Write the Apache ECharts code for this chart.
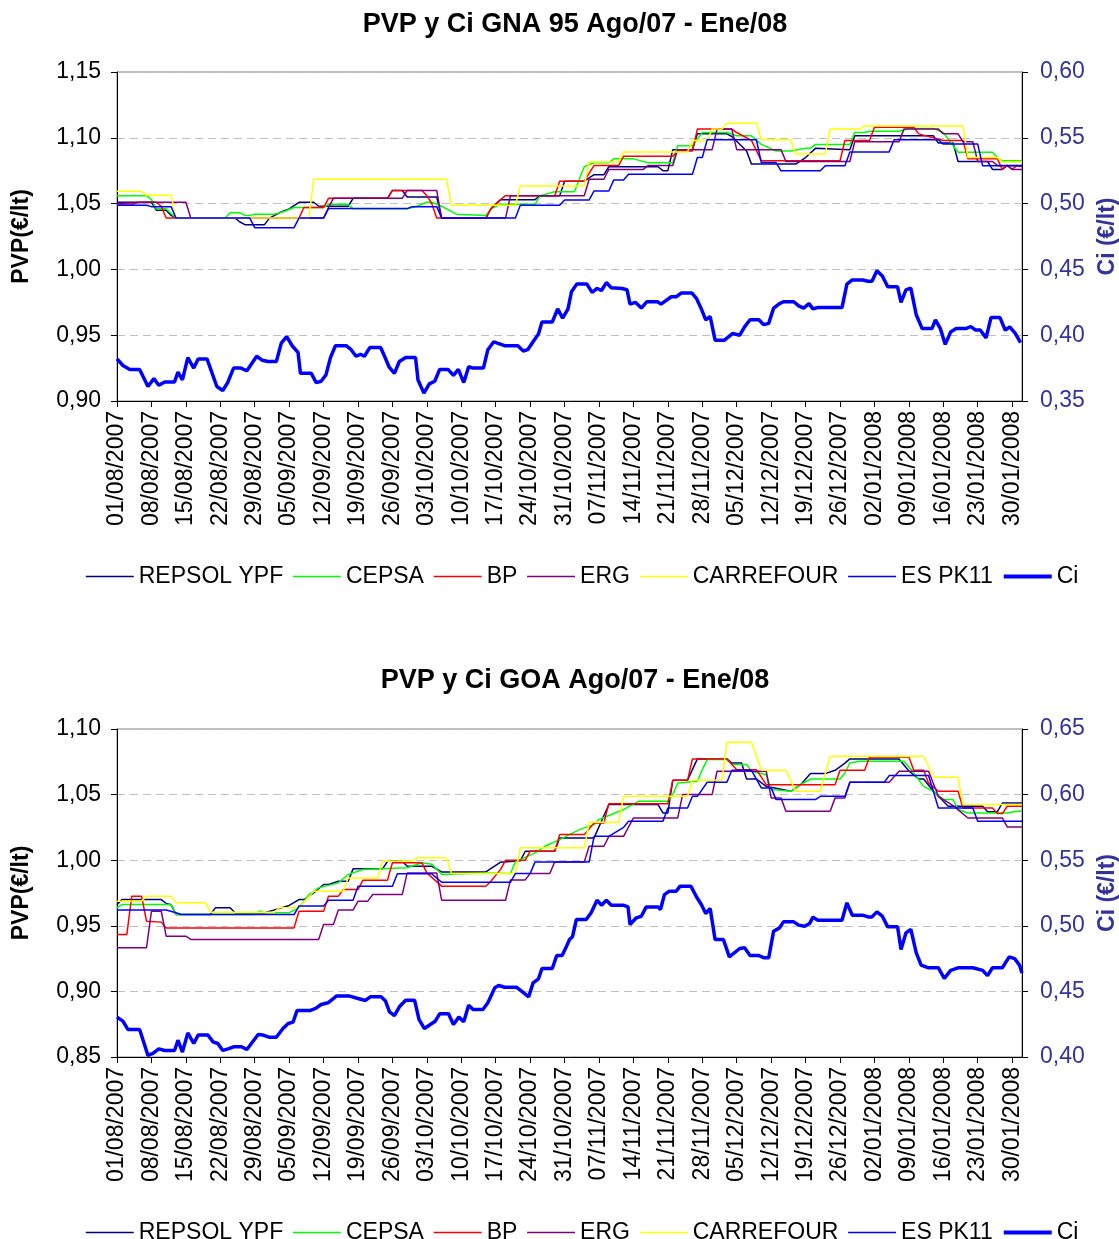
<!DOCTYPE html>
<html><head><meta charset="utf-8">
<script src="https://cdn.jsdelivr.net/npm/echarts@6/dist/echarts.min.js"></script>
<style>html,body{margin:0;padding:0;background:#fff}#c{width:1119px;height:1239px}</style>
</head><body><div id="c"></div>
<script>
// ---------- categories (daily, 01/08/2007 .. 01/02/2008) ----------
const dates = [];
(function(){ const d0 = new Date(2007,7,1); for(let i=0;i<185;i++){ const d=new Date(d0.getFullYear(),d0.getMonth(),d0.getDate()+i);
  dates.push(String(d.getDate()).padStart(2,'0')+'/'+String(d.getMonth()+1).padStart(2,'0')+'/'+d.getFullYear()); } })();
const tickIdx = [0,7,14,21,28,35,42,49,56,63,70,77,84,91,98,105,112,119,126,133,140,147,154,161,168,175,182];
const names = ['REPSOL YPF','CEPSA','BP','ERG','CARREFOUR','ES PK11','Ci'];
const colors = ['#000080','#00FF00','#FF0000','#800080','#FFFF00','#0000FF','#0000FF'];

// ---------- GNA 95 (chart 1) : [day index, value] ----------
const repsol1 = [[0,1.051],[7,1.051],[8,1.045],[10,1.045],[11,1.041],[12,1.039],[24,1.039],[25,1.036],[26,1.034],[30,1.034],[31,1.039],[33,1.043],[35,1.046],[37,1.051],[40,1.051],[41,1.048],[47,1.048],[48,1.054],[55,1.054],[56,1.060],[58,1.060],[59,1.055],[65,1.055],[66,1.039],[75,1.039],[76,1.046],[78,1.053],[85,1.053],[86,1.056],[90,1.056],[91,1.067],[95,1.067],[97,1.072],[99,1.072],[100,1.078],[110,1.078],[111,1.075],[112,1.075],[113,1.091],[117,1.091],[118,1.103],[124,1.103],[125,1.101],[128,1.090],[129,1.080],[138,1.080],[140,1.085],[142,1.092],[149,1.091],[150,1.1015],[166,1.1015],[167,1.096],[170,1.096],[171,1.082],[177,1.082],[178,1.076],[180,1.076],[181,1.079],[184,1.079]];
const cepsa1 = [[0,1.056],[6,1.056],[7,1.053],[8,1.046],[10,1.046],[12,1.039],[22,1.039],[23,1.043],[25,1.043],[26,1.041],[27,1.041],[28,1.042],[32,1.042],[34,1.044],[36,1.047],[42,1.047],[43,1.0495],[47,1.0495],[48,1.046],[59,1.046],[61,1.048],[63,1.051],[64,1.051],[66,1.048],[69,1.042],[75,1.041],[76,1.046],[78,1.0495],[85,1.0495],[86,1.056],[89,1.059],[93,1.059],[95,1.078],[97,1.081],[100,1.081],[101,1.084],[105,1.084],[108,1.081],[113,1.081],[114,1.094],[117,1.094],[118,1.099],[119,1.104],[124,1.104],[126,1.1015],[129,1.1015],[131,1.095],[134,1.090],[137,1.090],[140,1.092],[141,1.092],[142,1.095],[149,1.095],[150,1.104],[152,1.104],[153,1.105],[159,1.105],[161,1.107],[166,1.107],[168,1.104],[171,1.089],[178,1.089],[179,1.085],[180,1.0825],[184,1.0825]];
const bp1 = [[0,1.049],[3,1.049],[4,1.051],[8,1.051],[9,1.048],[10,1.039],[37,1.039],[38,1.047],[42,1.047],[43,1.054],[55,1.054],[56,1.060],[62,1.060],[63,1.056],[64,1.050],[65,1.039],[75,1.039],[76,1.046],[78,1.053],[79,1.056],[89,1.056],[90,1.067],[95,1.067],[97,1.079],[102,1.079],[103,1.086],[113,1.086],[114,1.090],[117,1.090],[118,1.1066],[125,1.1066],[126,1.104],[129,1.098],[131,1.0825],[147,1.0825],[148,1.098],[153,1.098],[154,1.108],[162,1.108],[163,1.103],[168,1.098],[172,1.098],[173,1.084],[179,1.084],[180,1.076],[181,1.079],[182,1.076],[183,1.079],[184,1.078]];
const erg1 = [[0,1.050],[7,1.051],[14,1.051],[15,1.039],[42,1.039],[43,1.047],[44,1.054],[58,1.054],[59,1.060],[65,1.060],[66,1.039],[79,1.039],[80,1.056],[95,1.056],[96,1.0685],[99,1.0685],[100,1.076],[107,1.076],[108,1.079],[113,1.079],[114,1.091],[121,1.091],[122,1.1066],[125,1.1066],[126,1.091],[135,1.091],[136,1.082],[149,1.082],[150,1.097],[159,1.097],[160,1.1066],[167,1.1066],[168,1.103],[171,1.103],[172,1.097],[174,1.097],[175,1.082],[178,1.082],[179,1.079],[181,1.079],[182,1.076],[184,1.076]];
const carrefour1 = [[0,1.0594],[5,1.0594],[6,1.0563],[11,1.0563],[12,1.039],[39,1.039],[40,1.0685],[67,1.0685],[68,1.0487],[81,1.0487],[82,1.0634],[95,1.0634],[96,1.0817],[102,1.0817],[103,1.0893],[116,1.0893],[117,1.098],[120,1.098],[121,1.1066],[123,1.1066],[124,1.111],[130,1.111],[131,1.0985],[137,1.0985],[138,1.0876],[144,1.0876],[145,1.1066],[151,1.1066],[152,1.109],[172,1.109],[173,1.085],[179,1.085],[180,1.0817],[184,1.0817]];
const espk1 = [[0,1.0487],[6,1.0487],[7,1.0477],[11,1.0477],[12,1.039],[27,1.039],[28,1.0317],[36,1.0317],[37,1.039],[42,1.039],[43,1.0462],[59,1.0462],[60,1.0477],[65,1.0477],[66,1.039],[81,1.039],[82,1.0487],[90,1.0487],[91,1.0528],[96,1.0528],[97,1.0596],[100,1.0596],[101,1.068],[103,1.068],[104,1.0723],[117,1.0723],[118,1.085],[119,1.085],[120,1.0985],[130,1.0985],[131,1.0812],[134,1.0812],[135,1.0749],[143,1.0749],[144,1.0787],[148,1.0787],[149,1.0893],[157,1.0893],[158,1.0985],[167,1.0985],[168,1.0952],[175,1.0952],[176,1.0787],[184,1.0787]];
const ci1 = [[0,0.382],[1.2,0.377],[2.6,0.374],[4.6,0.374],[6.3,0.361],[7.5,0.367],[8.5,0.362],[9.7,0.3645],[11.7,0.3645],[12.4,0.372],[13.3,0.366],[14.4,0.383],[15.6,0.375],[16.5,0.382],[18.3,0.382],[20.3,0.361],[21.5,0.358],[22.5,0.364],[23.7,0.375],[25.2,0.375],[26.4,0.373],[28.4,0.384],[29.5,0.381],[30.7,0.380],[32.4,0.380],[33.4,0.394],[34.5,0.399],[35.6,0.392],[36.8,0.387],[37.3,0.371],[39.5,0.371],[40.5,0.364],[41.5,0.365],[42.5,0.370],[43.4,0.383],[44.4,0.392],[46.6,0.392],[47.6,0.389],[48.6,0.384],[49.5,0.3855],[50.3,0.384],[51.4,0.3906],[53.6,0.3906],[54.4,0.384],[55.3,0.376],[56.4,0.371],[57.4,0.380],[58.7,0.383],[60.7,0.383],[61.2,0.366],[62.4,0.356],[63.5,0.363],[64.6,0.365],[65.6,0.374],[67.3,0.374],[68.4,0.3695],[69.4,0.374],[70.5,0.364],[71.5,0.376],[72.4,0.375],[74.5,0.375],[75.4,0.389],[76.6,0.395],[78.8,0.392],[81.5,0.392],[82.6,0.388],[83.5,0.389],[84.6,0.395],[85.7,0.401],[86.4,0.410],[88.5,0.410],[89.6,0.420],[90.6,0.413],[91.7,0.420],[92.4,0.433],[93.5,0.439],[95.5,0.439],[96.6,0.4325],[97.6,0.4355],[98.5,0.434],[99.5,0.440],[100.5,0.436],[102.7,0.4355],[103.7,0.4345],[104.3,0.4236],[105.4,0.425],[106.6,0.4206],[107.7,0.4254],[109.9,0.4254],[110.6,0.4236],[112.7,0.4292],[113.7,0.4292],[114.7,0.432],[116.9,0.432],[117.8,0.428],[118.8,0.420],[119.7,0.4117],[120.6,0.4142],[121.6,0.3962],[123.5,0.3962],[125.2,0.4013],[126.6,0.400],[127.6,0.4063],[128.7,0.4117],[130.5,0.4117],[131.5,0.408],[132.5,0.409],[133.5,0.4206],[134.7,0.424],[135.5,0.4254],[137.6,0.4254],[138.6,0.4223],[139.6,0.4206],[140.7,0.424],[141.5,0.420],[142.5,0.421],[147.4,0.421],[148.4,0.4388],[149.5,0.442],[151.6,0.442],[152.7,0.441],[153.5,0.441],[154.5,0.449],[155.6,0.445],[156.7,0.4368],[158.7,0.4368],[159.4,0.425],[160.4,0.4345],[161.4,0.4358],[162.5,0.4155],[163.7,0.405],[165.7,0.405],[166.4,0.4117],[167.4,0.405],[168.4,0.393],[169.5,0.4025],[170.6,0.405],[172.6,0.405],[173.6,0.4066],[174.5,0.404],[175.5,0.404],[176.7,0.398],[177.7,0.4135],[179.5,0.4135],[180.6,0.4038],[181.5,0.4063],[182.6,0.4015],[183.7,0.3944]];

// ---------- GOA (chart 2) ----------
const repsol2 = [[0,0.966],[1,0.970],[9,0.970],[10,0.967],[11,0.966],[12,0.9586],[19,0.9586],[20,0.9637],[23,0.9637],[24,0.960],[30,0.960],[32,0.962],[35,0.9655],[37,0.970],[38,0.970],[40,0.975],[42,0.9815],[43,0.9815],[45,0.984],[47,0.984],[48,0.9934],[54,0.9934],[55,0.9992],[58,0.9992],[59,0.9954],[64,0.9954],[66,0.9911],[75,0.9911],[78,0.9985],[82,0.9995],[83,1.0068],[89,1.0068],[90,1.017],[97,1.017],[100,1.0424],[110,1.0424],[111,1.036],[112,1.036],[113,1.061],[116,1.061],[118,1.0772],[124,1.0772],[125,1.0741],[127,1.0741],[128,1.0619],[130,1.0619],[132,1.0563],[137,1.0525],[139,1.0576],[141,1.066],[144,1.066],[146,1.0685],[148,1.074],[149,1.0772],[159,1.0772],[161,1.068],[163,1.0619],[164,1.0619],[166,1.0525],[169,1.0411],[176,1.0411],[177,1.037],[179,1.037],[180,1.0436],[184,1.0436]];
const cepsa2 = [[0,0.9637],[1,0.9662],[11,0.9662],[12,0.9586],[28,0.9586],[29,0.9614],[30,0.960],[35,0.960],[37,0.9637],[39,0.9738],[41,0.9789],[45,0.9827],[47,0.9891],[50,0.9929],[54,0.9934],[59,0.9942],[62,0.998],[64,0.997],[66,0.9891],[75,0.9903],[80,0.9898],[81,0.9987],[85,1.0056],[87,1.0106],[90,1.0157],[94,1.0233],[97,1.0271],[98,1.031],[103,1.0386],[106,1.0449],[112,1.0449],[113,1.05],[114,1.0589],[118,1.0602],[119,1.069],[120,1.0767],[124,1.0767],[125,1.0729],[128,1.0729],[129,1.0678],[132,1.0652],[133,1.0538],[137,1.0525],[139,1.0576],[141,1.0619],[147,1.0619],[148,1.0665],[149,1.0741],[151,1.0754],[160,1.0754],[162,1.0665],[164,1.0563],[166,1.0525],[168,1.0462],[170,1.0462],[171,1.0386],[173,1.036],[181,1.036],[183,1.0373],[184,1.0373]];
const bp2 = [[0,0.9434],[2,0.9434],[3,0.9726],[5,0.9726],[6,0.9535],[9,0.9528],[10,0.9484],[36,0.9484],[37,0.9611],[42,0.9611],[43,0.9726],[45,0.9726],[46,0.9776],[49,0.9776],[50,0.9848],[55,0.9848],[56,0.998],[62,0.998],[63,0.9903],[66,0.9802],[75,0.9802],[76,0.984],[78,0.993],[79,1.0],[83,1.0],[84,1.0068],[89,1.0068],[90,1.0195],[95,1.0195],[97,1.0284],[99,1.0284],[100,1.0431],[112,1.0431],[113,1.0609],[116,1.0609],[117,1.0772],[124,1.0772],[126,1.069],[130,1.069],[132,1.0576],[146,1.0576],[147,1.0685],[152,1.0685],[153,1.0787],[161,1.0787],[162,1.0685],[164,1.0685],[165,1.0589],[167,1.0525],[171,1.0525],[172,1.0398],[178,1.0398],[179,1.0355],[180,1.0355],[181,1.0411],[184,1.0411]];
const erg2 = [[0,0.9332],[6,0.9332],[7,0.9611],[9,0.9611],[10,0.9421],[14,0.9421],[15,0.9396],[41,0.9396],[42,0.951],[44,0.951],[45,0.962],[48,0.962],[49,0.9688],[51,0.9688],[52,0.9738],[58,0.9738],[59,0.9903],[65,0.9903],[66,0.9695],[79,0.9695],[80,0.985],[83,0.985],[84,0.9898],[88,0.9898],[89,0.9987],[95,0.9987],[96,1.0106],[99,1.0106],[100,1.0182],[103,1.0182],[105,1.0322],[114,1.0322],[115,1.05],[121,1.05],[122,1.0678],[132,1.0678],[133,1.0475],[135,1.0475],[136,1.0373],[145,1.0373],[146,1.0475],[148,1.0475],[149,1.0594],[157,1.0594],[159,1.0678],[165,1.0678],[167,1.0487],[170,1.0416],[173,1.0322],[180,1.0322],[181,1.0254],[184,1.0254]];
const carrefour2 = [[0,0.9688],[5,0.9688],[6,0.9726],[11,0.9726],[12,0.9675],[18,0.9675],[19,0.9604],[32,0.9604],[33,0.9637],[37,0.9637],[40,0.9764],[46,0.9764],[47,0.9865],[53,0.9865],[54,0.9992],[60,0.9992],[61,1.0018],[67,1.0018],[68,0.9898],[81,0.9898],[82,1.0094],[95,1.0094],[96,1.0289],[102,1.0289],[103,1.0487],[116,1.0487],[117,1.0609],[123,1.0609],[124,1.0899],[129,1.0899],[131,1.0685],[136,1.0685],[138,1.0525],[143,1.0525],[145,1.0792],[164,1.0792],[166,1.0632],[171,1.0632],[172,1.0424],[184,1.0424]];
const espk2 = [[0,0.962],[10,0.962],[12,0.9599],[13,0.9586],[36,0.9586],[37,0.965],[42,0.965],[43,0.9695],[48,0.9695],[49,0.9802],[56,0.9802],[57,0.9896],[64,0.9896],[66,0.9832],[80,0.9832],[81,0.9898],[84,0.9898],[85,0.9987],[96,0.9987],[97,1.0182],[100,1.0182],[103,1.025],[104,1.0297],[111,1.0297],[112,1.0398],[116,1.0398],[117,1.0487],[118,1.0487],[120,1.0594],[124,1.0594],[125,1.0685],[129,1.0685],[131,1.0551],[133,1.0551],[134,1.0462],[142,1.0462],[143,1.0487],[148,1.0487],[149,1.0594],[156,1.0594],[157,1.0645],[165,1.0645],[167,1.0398],[174,1.0398],[175,1.0297],[184,1.0297]];
const ci2 = [[0,0.4304],[1.2,0.4273],[2.2,0.421],[4.6,0.421],[6.3,0.4012],[7.3,0.4027],[8.5,0.4062],[9.7,0.405],[11.7,0.405],[12.4,0.4128],[13.3,0.4037],[14.4,0.4184],[15.6,0.4103],[16.5,0.4167],[18.5,0.4167],[19.5,0.4116],[20.5,0.4103],[21.5,0.405],[22.6,0.4062],[23.7,0.4078],[25.3,0.4078],[26.4,0.4057],[28.7,0.4172],[29.7,0.4167],[30.9,0.4151],[32.4,0.4151],[33.7,0.4215],[34.8,0.4255],[35.8,0.4266],[36.6,0.4354],[39.2,0.4354],[40.4,0.437],[41.5,0.440],[42.9,0.4413],[44.6,0.4464],[47.3,0.4464],[49,0.4446],[50.5,0.4431],[51.5,0.4459],[53.7,0.4459],[54.6,0.4426],[55.4,0.4344],[56.4,0.4316],[57.5,0.4387],[58.7,0.4433],[60.5,0.4433],[61.4,0.4286],[62.5,0.4217],[63.7,0.4248],[64.7,0.4273],[65.6,0.4329],[67.4,0.4329],[68.4,0.4248],[69.5,0.4304],[70.5,0.4268],[71.5,0.4395],[72.4,0.4362],[74.4,0.4362],[75.4,0.4413],[76.8,0.4527],[77.6,0.4545],[78.8,0.4532],[81.2,0.4532],[82.5,0.4494],[83.7,0.4459],[84.6,0.4565],[85.7,0.4596],[86.4,0.4675],[88.5,0.4675],[89.4,0.4774],[90.5,0.4774],[91.4,0.4845],[92,0.4895],[92.6,0.4916],[93.4,0.5048],[95.4,0.5048],[96.4,0.5099],[97.6,0.5195],[98.5,0.5157],[99.5,0.5195],[100.5,0.5157],[102.9,0.5157],[103.9,0.5144],[104.3,0.501],[105.6,0.5061],[106.6,0.5073],[107.6,0.5144],[110,0.5144],[110.5,0.5124],[111.3,0.5238],[112.3,0.5264],[113.7,0.5264],[114.5,0.5302],[116.7,0.5302],[117.8,0.5221],[118.8,0.5162],[119.7,0.5094],[120.6,0.5132],[121.6,0.4895],[123.3,0.4895],[124.5,0.4763],[126.6,0.4827],[127.6,0.4832],[128.7,0.4774],[130.4,0.4774],[131.6,0.4756],[132.5,0.4756],[133.5,0.4959],[134.7,0.4984],[135.5,0.503],[137.6,0.503],[138.6,0.5005],[139.8,0.4997],[140.8,0.5017],[141.5,0.5066],[142.5,0.5043],[147.4,0.5043],[148.4,0.5175],[149.5,0.5081],[151.6,0.5081],[152.7,0.5068],[153.5,0.5068],[154.5,0.5106],[155.6,0.5073],[156.7,0.4992],[158.7,0.4992],[159.4,0.4819],[160.4,0.4946],[161.4,0.4972],[162.5,0.4794],[163.5,0.470],[165,0.468],[167,0.468],[168.2,0.460],[169.5,0.466],[171,0.468],[174,0.468],[176,0.466],[177,0.462],[178,0.468],[180,0.468],[181.4,0.4763],[182.5,0.475],[183.5,0.470],[184,0.464]];

const leftTicks1 = {min:0.90,max:1.15}, rightTicks1 = {min:0.35,max:0.60};
const leftTicks2 = {min:0.85,max:1.10}, rightTicks2 = {min:0.40,max:0.65};

const FONT = 'Liberation Sans, Arial, sans-serif';
const fmt = v => v.toFixed(2).replace('.', ',');
const chart = echarts.init(document.getElementById('c'), null, {renderer:'canvas'});

function xAxisDef(gi){
  return {type:'value', gridIndex:gi, min:0, max:184,
    axisLine:{show:true,lineStyle:{color:'#000',width:1}},
    axisTick:{show:true,customValues:tickIdx,length:6,lineStyle:{color:'#000'}},
    axisLabel:{customValues:tickIdx,rotate:90,margin:10,fontSize:23,color:'#000',fontFamily:FONT,formatter:v=>dates[Math.round(v)]},
    splitLine:{show:false}};
}
function yLeft(gi,t){
  return {type:'value', gridIndex:gi, position:'left', min:t.min, max:t.max, interval:0.05,
    name:'PVP(€/lt)', nameLocation:'middle', nameRotate:90, nameGap:84,
    nameTextStyle:{fontSize:23,fontWeight:'bold',color:'#000',fontFamily:FONT},
    axisLine:{show:true,lineStyle:{color:'#000'}}, axisTick:{show:true,length:6,lineStyle:{color:'#000'}},
    axisLabel:{formatter:fmt,fontSize:23,color:'#000',margin:16,fontFamily:FONT},
    splitLine:{show:true,lineStyle:{color:'#c0c0c0',type:[8,5],width:1}}};
}
function yRight(gi,t){
  return {type:'value', gridIndex:gi, position:'right', min:t.min, max:t.max, interval:0.05,
    name:'Ci (€/lt)', nameLocation:'middle', nameRotate:90, nameGap:72,
    nameTextStyle:{fontSize:23,fontWeight:'bold',color:'#333399',fontFamily:FONT},
    axisLine:{show:true,lineStyle:{color:'#000'}}, axisTick:{show:true,length:6,lineStyle:{color:'#000'}},
    axisLabel:{formatter:fmt,fontSize:23,color:'#333399',margin:18,fontFamily:FONT},
    splitLine:{show:false}};
}
const sets = [[repsol1,cepsa1,bp1,erg1,carrefour1,espk1,ci1],[repsol2,cepsa2,bp2,erg2,carrefour2,espk2,ci2]];
const series = [];
sets.forEach((arr,gi)=>{
  arr.forEach((d,k)=>{
    series.push({name:names[k], type:'line', xAxisIndex:gi, yAxisIndex: gi*2 + (k===6?1:0),
      data:d, symbol:'none', showSymbol:false, smooth:false, silent:true,
      lineStyle:{color:colors[k], width: k===6?3.5:1.5}, itemStyle:{color:colors[k]}, z: 2+k});
  });
});
const legendDef = top => ({top:top, left:80, itemWidth:48, itemHeight:14, itemGap:9,
  itemStyle:{opacity:0},
  textStyle:{fontSize:23,color:'#000',fontFamily:FONT,padding:[0,0,0,0]},
  data:names.map((n,k)=>({name:n, lineStyle:{width:k===6?4:1.5, color:colors[k]}})), selectedMode:false});

const gridBase = {show:true,borderColor:'#808080',borderWidth:1,outerBoundsMode:'none',containLabel:false};
chart.setOption({
  animation:false,
  backgroundColor:'#fff',
  grid:[Object.assign({left:117,top:72,width:905,height:329},gridBase),
        Object.assign({left:117,top:729,width:905,height:328},gridBase)],
  xAxis:[xAxisDef(0),xAxisDef(1)],
  yAxis:[yLeft(0,leftTicks1),yRight(0,rightTicks1),yLeft(1,leftTicks2),yRight(1,rightTicks2)],
  legend:[legendDef(560),legendDef(1216)],
  graphic:[
    {type:'text',x:575,y:25,style:{text:'PVP y Ci GNA 95 Ago/07 - Ene/08',font:'bold 27px '+FONT,fill:'#000',textAlign:'center',textVerticalAlign:'middle'}},
    {type:'text',x:575,y:681,style:{text:'PVP y Ci GOA Ago/07 - Ene/08',font:'bold 27px '+FONT,fill:'#000',textAlign:'center',textVerticalAlign:'middle'}}
  ],
  series:series
});
</script></body></html>
